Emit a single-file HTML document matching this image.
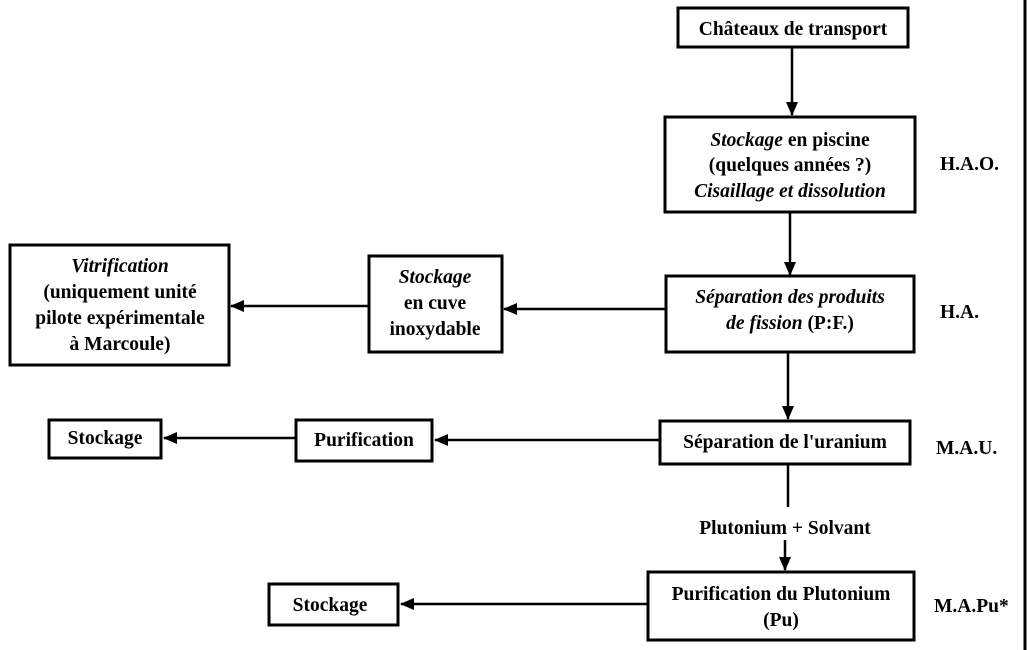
<!DOCTYPE html>
<html><head><meta charset="utf-8"><style>
html,body{margin:0;padding:0;background:#fff;}
svg{display:block;}
text{font-family:"Liberation Serif",serif;font-weight:bold;font-size:19.5px;fill:#000;}
.i{font-style:italic;}
</style></head><body>
<svg width="1027" height="650" viewBox="0 0 1027 650" xmlns="http://www.w3.org/2000/svg">
<defs><marker id="a" markerWidth="14" markerHeight="12" refX="13" refY="6" orient="auto" markerUnits="userSpaceOnUse"><path d="M0,0 L14,6 L0,12 z" fill="#000"/></marker></defs>
<g fill="none" stroke="#000" stroke-width="3">
<rect x="678" y="8" width="230" height="39"/>
<rect x="665" y="117" width="250" height="95"/>
<rect x="666" y="276" width="248" height="76"/>
<rect x="369" y="256" width="133" height="96"/>
<rect x="10" y="245" width="219" height="120"/>
<rect x="660" y="421" width="250" height="43"/>
<rect x="296" y="420" width="136" height="41"/>
<rect x="49" y="420" width="112" height="38"/>
<rect x="648" y="572" width="266" height="68"/>
<rect x="269" y="584" width="129" height="41"/>
<line x1="1025" y1="0" x2="1025" y2="650"/>
</g>
<g stroke="#000" stroke-width="2.5" marker-end="url(#a)">
<line x1="792" y1="47" x2="792" y2="115"/>
<line x1="790" y1="212" x2="790" y2="275"/>
<line x1="666" y1="309" x2="504" y2="309"/>
<line x1="369" y1="306" x2="231" y2="306"/>
<line x1="788" y1="352" x2="788" y2="419"/>
<line x1="660" y1="440" x2="435" y2="440"/>
<line x1="296" y1="438" x2="164" y2="438"/>
<line x1="785" y1="540" x2="785" y2="570"/>
<line x1="648" y1="604" x2="401" y2="604"/>
</g>
<line x1="788" y1="464" x2="788" y2="507" stroke="#000" stroke-width="2.5"/>
<g text-anchor="middle">
<text x="793" y="35">Châteaux de transport</text>
<text x="790" y="146"><tspan class="i">Stockage</tspan> en piscine</text>
<text x="790" y="171">(quelques années ?)</text>
<text x="790" y="197" class="i">Cisaillage et dissolution</text>
<text x="790" y="303" class="i">Séparation des produits</text>
<text x="790" y="329"><tspan class="i">de fission</tspan> (P:F.)</text>
<text x="435" y="283" class="i">Stockage</text>
<text x="435" y="309">en cuve</text>
<text x="435" y="335">inoxydable</text>
<text x="120" y="272" class="i">Vitrification</text>
<text x="120" y="298">(uniquement unité</text>
<text x="120" y="324">pilote expérimentale</text>
<text x="120" y="350">à Marcoule)</text>
<text x="785" y="448">Séparation de l'uranium</text>
<text x="364" y="446">Purification</text>
<text x="105" y="444">Stockage</text>
<text x="785" y="534">Plutonium + Solvant</text>
<text x="781" y="600">Purification du Plutonium</text>
<text x="781" y="626">(Pu)</text>
<text x="330" y="611">Stockage</text>
</g>
<text x="940" y="170">H.A.O.</text>
<text x="940" y="318">H.A.</text>
<text x="936" y="454">M.A.U.</text>
<text x="934" y="612">M.A.Pu*</text>
</svg>
</body></html>
